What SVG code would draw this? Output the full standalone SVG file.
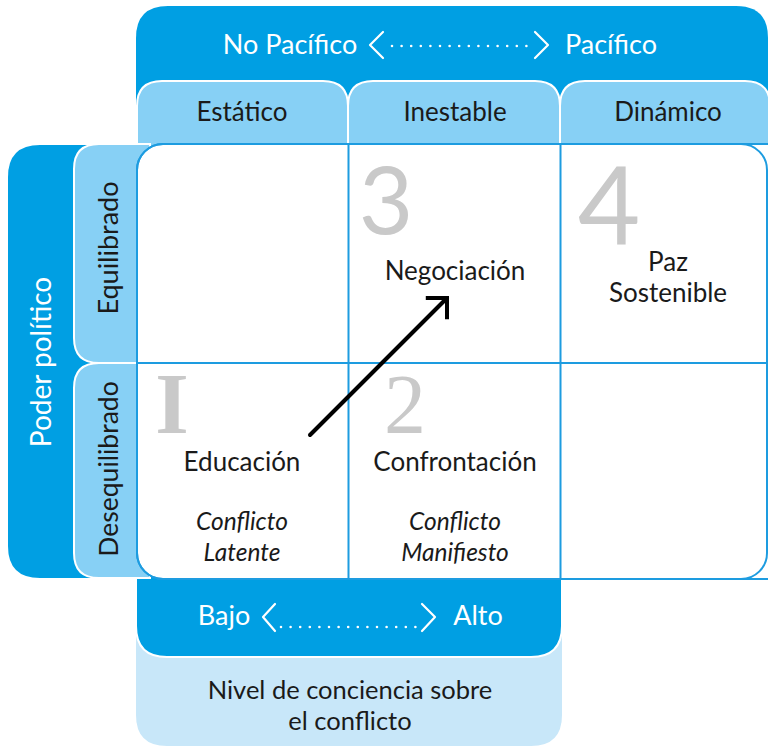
<svg xmlns="http://www.w3.org/2000/svg" width="768" height="750" viewBox="0 0 768 750">
<style>
.dark{fill:#009FE3}
.tab{fill:#87D0F5;stroke:#ffffff;stroke-width:2}
.t{font-family:Lato,"Open Sans","Liberation Sans",sans-serif;font-size:26px;fill:#1a1a1a;text-anchor:middle}
.b{font-size:27px}
.nv{font-size:25.5px}
.w{fill:#ffffff}
.it{font-style:italic;font-size:24.5px}
.num{font-family:Lato,"Liberation Sans",sans-serif;fill:#c9c9c9;text-anchor:middle}
.snum{font-family:"Liberation Serif","Times New Roman",serif;fill:#c9c9c9;text-anchor:middle}
.grid{fill:none;stroke:#1D9CE0;stroke-width:2}
.chev{fill:none;stroke:#ffffff;stroke-width:2.2;stroke-linecap:round;stroke-linejoin:round}
.dots{fill:none;stroke:#ffffff;stroke-width:2.6;stroke-linecap:round;stroke-dasharray:0 9.6}
</style>
<defs>
<marker id="ah" viewBox="0 0 30 40" refX="22" refY="20" markerWidth="30" markerHeight="40" orient="auto" markerUnits="userSpaceOnUse">
<path d="M7,5 L22,20 L7,35" fill="none" stroke="#000" stroke-width="4" stroke-linejoin="miter"/>
</marker>
</defs>

<!-- bottom panels -->
<g id="bottom-axis">
<path d="M136,590 V715 Q136,746 167,746 H531 Q562,746 562,715 V590 Z" fill="#C8E7F9"/>
<path d="M136,570 V626 Q136,657 167,657 H531 Q562,657 562,626 V570 Z" class="dark" stroke="#ffffff" stroke-width="2"/>
<text class="t b w" x="224" y="625">Bajo</text>
<polyline class="chev" points="275,604 263,617 275,631"/>
<line class="dots" x1="281" y1="627" x2="421" y2="627"/>
<polyline class="chev" points="422,604 435,617 422,631"/>
<text class="t b w" x="478" y="625">Alto</text>
<text class="t nv" x="350" y="699">Nivel de conciencia sobre</text>
<text class="t nv" x="350" y="730">el conflicto</text>
</g>

<!-- top panel -->
<g id="top-axis">
<path d="M136,160 V38 Q136,6 168,6 H736 Q768,6 768,38 V160 Z" class="dark"/>
<text class="t b w" x="290" y="54">No Pacífico</text>
<polyline class="chev" points="383,32 370,45 383,58"/>
<line class="dots" x1="392" y1="46" x2="530" y2="46"/>
<polyline class="chev" points="535,32 548,45 535,58"/>
<text class="t b w" x="611" y="54">Pacífico</text>
</g>

<g id="col-estatico">
<path class="tab" d="M137,160 V106 Q137,81 162,81 H323 Q348,81 348,106 V160 Z"/>
<text class="t" x="242" y="121">Estático</text>
</g>
<g id="col-inestable">
<path class="tab" d="M348,160 V106 Q348,81 373,81 H535 Q560,81 560,106 V160 Z"/>
<text class="t" x="455" y="121">Inestable</text>
</g>
<g id="col-dinamico">
<path class="tab" d="M560,160 V106 Q560,81 585,81 H745 Q770,81 770,106 V160 Z"/>
<text class="t" x="668" y="121">Dinámico</text>
</g>

<!-- left panel -->
<g id="left-axis">
<path d="M150,145 H40 Q8,145 8,177 V546 Q8,578 40,578 H150 Z" class="dark"/>
<text class="t w" style="font-size:28px" transform="translate(51,362) rotate(-90)">Poder político</text>
</g>
<g id="row-equilibrado">
<path class="tab" d="M150,144 H99 Q74,144 74,169 V338 Q74,363 99,363 H150 Z"/>
<text class="t" style="font-size:27px" transform="translate(118,248) rotate(-90)">Equilibrado</text>
</g>
<g id="row-desequilibrado">
<path class="tab" d="M150,363 H99 Q74,363 74,388 V553 Q74,578 99,578 H150 Z"/>
<text class="t" style="font-size:26.5px" transform="translate(118,469) rotate(-90)">Desequilibrado</text>
</g>

<!-- grid -->
<g id="grid">
<rect x="137" y="144" width="660" height="435" rx="26" fill="#ffffff" stroke="#1D9CE0" stroke-width="2"/>
<rect x="137" y="144" width="630" height="435" rx="26" class="grid"/>
<line class="grid" x1="137" y1="363" x2="768" y2="363"/>
<line class="grid" x1="348.5" y1="144" x2="348.5" y2="579"/>
<line class="grid" x1="560.5" y1="144" x2="560.5" y2="579"/>
</g>

<g id="cell-1">
<text class="snum" x="172" y="433" font-size="86" font-weight="bold">I</text>
<text class="t" x="242" y="471">Educación</text>
<text class="t it" x="242" y="530">Conflicto</text>
<text class="t it" x="242" y="561">Latente</text>
</g>
<g id="cell-2">
<text class="snum" x="405" y="433" font-size="84">2</text>
<text class="t" x="455" y="471">Confrontación</text>
<text class="t it" x="455" y="530">Conflicto</text>
<text class="t it" x="455" y="561">Manifiesto</text>
</g>
<g id="cell-3">
<text class="num" x="386" y="234" font-size="94">3</text>
<text class="t" x="455" y="280">Negociación</text>
</g>
<g id="cell-4">
<text class="num" x="609" y="245" font-size="108">4</text>
<text class="t" x="668" y="271">Paz</text>
<text class="t" x="668" y="302">Sostenible</text>
</g>

<g id="connectors">
<line x1="310" y1="435" x2="447" y2="298" stroke="#000" stroke-width="4" stroke-linecap="round" marker-end="url(#ah)"/>
</g>
</svg>
